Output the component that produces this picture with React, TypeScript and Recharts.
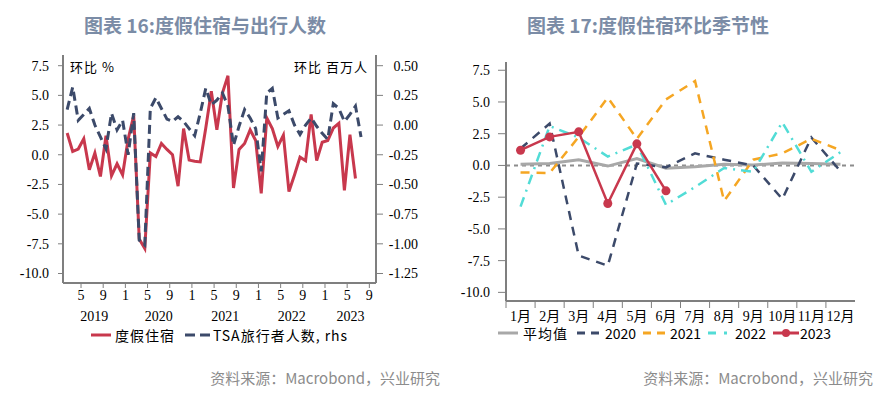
import React from "react";
import { LineChart, Line, XAxis, YAxis, ReferenceLine } from "recharts";

// 度假住宿 环比 %（左图 2019 从 2 月开始，2023 到 6 月）
const lodging2019 = [1.83, 0.28, 0.48, 1.35, -1.26, 0.14, -1.83, 1.6, -1.77, -0.76, -1.69];
const lodging2020 = [1.33, 3.3, -7.1, -7.9, 0.15, -0.15, 0.95, 0.45, 0.0, -2.65, 2.2, -0.45];
const lodging2021 = [-0.55, -0.6, 2.25, 5.35, 2.1, 5.2, 6.65, -2.8, 0.45, 0.95, 2.1, 1.2];
const lodging2022 = [-3.25, 3.1, 2.2, 0.7, 1.65, -3.1, -1.7, -0.2, -0.5, 3.4, -0.5, 1.05];
const lodging2023 = [1.2, 2.25, 2.65, -3.0, 1.7, -2.0];
const lodgingAvg = [0.1, 0.15, 0.45, -0.05, 0.55, -0.22, -0.1, 0.1, 0.03, 0.2, 0.15, 0.1];

// TSA 旅行者人数 环比 百万人（2019/2 - 2023/7）
const tsa2019 = [0.13, 0.32, 0.04, 0.09, 0.14, 0.0, -0.1, -0.2, 0.1, -0.04, 0.04];
const tsa2020 = [-0.25, 0.1, -0.97, -1.01, 0.14, 0.23, 0.14, 0.05, 0.03, 0.07, 0.03, -0.03];
const tsa2021 = [-0.09, 0.1, 0.31, 0.17, 0.21, 0.27, 0.16, -0.17, -0.01, 0.13, 0.06, -0.03];
const tsa2022 = [-0.39, 0.27, 0.31, 0.06, 0.09, 0.12, 0.0, -0.08, 0.0, 0.06, -0.01, -0.07];
const tsa2023 = [-0.12, 0.18, 0.14, 0.03, 0.09, 0.16, -0.1];

const monthLabels = ["1月", "2月", "3月", "4月", "5月", "6月", "7月", "8月", "9月", "10月", "11月", "12月"];
const leftTicksL = [-10, -7.5, -5, -2.5, 0, 2.5, 5, 7.5];
const leftTicksR = [-1.25, -1, -0.75, -0.5, -0.25, 0, 0.25, 0.5];
const monthTicks = [4, 8, 12, 16, 20, 24, 28, 32, 36, 40, 44, 48, 52, 56];
const yearTicks = [6.4, 18, 30, 42, 52.6];

const lodgingAll = [...lodging2019, ...lodging2020, ...lodging2021, ...lodging2022, ...lodging2023];
const tsaAll = [...tsa2019, ...tsa2020, ...tsa2021, ...tsa2022, ...tsa2023];
// x = 月序号(2019年1月=0) + 0.5，2019/2 起
const leftData = tsaAll.map((v, i) => ({ x: i + 1.5, lodging: lodgingAll[i], tsa: v }));

const rightData = monthLabels.map((m, i) => ({
  x: i + 0.5,
  avg: lodgingAvg[i],
  y2020: lodging2020[i],
  y2021: lodging2021[i],
  y2022: lodging2022[i],
  y2023: lodging2023[i],
}));

const RED = "#c8384d";
const NAVY = "#3c4a6a";
const ORANGE = "#f5a623";
const CYAN = "#52dcd6";
const GRAY = "#a8a8a8";
const AXIS = "#7f7f7f";
const TITLE = "#7b8ca6";

const serif = "'Liberation Serif', 'Noto Sans CJK SC', serif";
const sans = "'Noto Sans CJK SC', 'Noto Sans', sans-serif";

const tickStyle = { fontFamily: serif, fontSize: 14, fill: "#000" };

const RightTick = (props: any) => {
  const { x, y, payload } = props;
  return (
    <text x={x + 33} y={y} dy="0.35em" textAnchor="end" fontFamily={serif} fontSize={14} fill="#000">
      {payload.value.toFixed(2)}
    </text>
  );
};

const abs = (left: number, top: number, extra: React.CSSProperties = {}): React.CSSProperties => ({
  position: "absolute",
  left,
  top,
  whiteSpace: "nowrap",
  ...extra,
});

const Swatch = ({ color, dash, dot, width = 20 }: { color: string; dash?: string; dot?: boolean; width?: number }) => (
  <svg width={width} height={10} style={{ display: "block" }}>
    <line x1={0} y1={5} x2={width} y2={5} stroke={color} strokeWidth={3} strokeDasharray={dash} />
    {dot && <circle cx={width / 2} cy={5} r={4} fill={color} />}
  </svg>
);

const legendText: React.CSSProperties = { fontFamily: sans, fontSize: 14, color: "#000", lineHeight: "16px" };

const App: React.FC = () => {
  return (
    <div style={{ position: "absolute", left: 0, top: 0, width: 881, height: 395, background: "#fff" }}>
      {/* 标题 */}
      <div style={abs(5, 11, { width: 400, textAlign: "center", fontFamily: sans, fontSize: 19, fontWeight: 700, color: TITLE })}>
        图表 16:度假住宿与出行人数
      </div>
      <div style={abs(448, 11, { width: 400, textAlign: "center", fontFamily: sans, fontSize: 19, fontWeight: 700, color: TITLE })}>
        图表 17:度假住宿环比季节性
      </div>

      {/* 左图 */}
      <div style={abs(0, 0)}>
        <LineChart width={440} height={395} data={leftData} margin={{ top: 55, right: 14, bottom: 72, left: 13 }}>
          <XAxis
            xAxisId="m"
            type="number"
            dataKey="x"
            domain={[0.75, 57.2]}
            ticks={monthTicks}
            interval={0}
            tickFormatter={(v: number) => String((v % 12) + 1)}
            axisLine={{ stroke: AXIS, strokeWidth: 2 }}
            tickLine={{ stroke: AXIS }}
            tickSize={5}
            height={20}
            tick={tickStyle}
          />
          <XAxis
            xAxisId="yr"
            type="number"
            dataKey="x"
            domain={[0.75, 57.2]}
            ticks={yearTicks}
            interval={0}
            tickFormatter={(v: number) => String(2019 + Math.floor(v / 12))}
            axisLine={false}
            tickLine={false}
            height={20}
            tick={tickStyle}
          />
          <YAxis
            yAxisId="l"
            domain={[-10.8, 8.4]}
            ticks={leftTicksL}
            interval={0}
            width={50}
            tickSize={5}
            tickMargin={9}
            tickFormatter={(v: number) => v.toFixed(1)}
            axisLine={{ stroke: AXIS, strokeWidth: 2 }}
            tickLine={{ stroke: AXIS }}
            tick={tickStyle}
          />
          <YAxis
            yAxisId="r"
            orientation="right"
            domain={[-1.33, 0.59]}
            ticks={leftTicksR}
            interval={0}
            width={50}
            tickSize={7}
            tickMargin={2}
            axisLine={{ stroke: AXIS, strokeWidth: 2 }}
            tickLine={{ stroke: AXIS }}
            tick={<RightTick />}
          />
          <Line xAxisId="m" yAxisId="l" dataKey="lodging" stroke={RED} strokeWidth={3} dot={false} isAnimationActive={false} />
          <Line xAxisId="m" yAxisId="r" dataKey="tsa" stroke={NAVY} strokeWidth={3} strokeDasharray="9 5" dot={false} isAnimationActive={false} />
        </LineChart>
      </div>
      <div style={abs(70, 57, { fontFamily: sans, fontSize: 13, color: "#000", letterSpacing: 1 })}>环比 %</div>
      <div style={abs(268, 57, { width: 100, textAlign: "right", fontFamily: sans, fontSize: 13, color: "#000", letterSpacing: 1 })}>
        环比 百万人
      </div>

      {/* 左图图例 */}
      <div style={abs(91, 330)}><Swatch color={RED} /></div>
      <div style={abs(115, 327, { ...legendText, letterSpacing: 1 })}>度假住宿</div>
      <div style={abs(185, 330)}><Swatch color={NAVY} dash="10 5" width={25} /></div>
      <div style={abs(213, 327, { ...legendText, letterSpacing: 1 })}>TSA旅行者人数, rhs</div>

      {/* 右图 */}
      <div style={abs(440, 0)}>
        <LineChart width={441} height={395} data={rightData} margin={{ top: 62, right: 26, bottom: 66, left: 11 }}>
          <XAxis
            xAxisId="b"
            type="number"
            dataKey="x"
            domain={[0, 12]}
            ticks={[0, 1, 2, 3, 4, 5, 6, 7, 8, 9, 10, 11]}
            interval={0}
            tickFormatter={() => ""}
            axisLine={{ stroke: AXIS, strokeWidth: 2 }}
            tickLine={{ stroke: AXIS }}
            tickSize={7}
            height={8}
          />
          <XAxis
            xAxisId="lab"
            type="number"
            dataKey="x"
            domain={[0, 12]}
            ticks={rightData.map((d) => d.x)}
            interval={0}
            tickFormatter={(v: number) => monthLabels[Math.floor(v)]}
            axisLine={false}
            tickLine={false}
            tickSize={0}
            height={20}
            tick={tickStyle}
          />
          <YAxis
            domain={[-10.68, 8.15]}
            ticks={leftTicksL}
            interval={0}
            width={55}
            tickSize={8}
            tickMargin={8}
            tickFormatter={(v: number) => v.toFixed(1)}
            axisLine={{ stroke: AXIS, strokeWidth: 2 }}
            tickLine={{ stroke: AXIS }}
            tick={tickStyle}
          />
          <ReferenceLine xAxisId="b" y={0} stroke="#8c8c8c" strokeWidth={2} strokeDasharray="4 4" />
          <Line xAxisId="b" dataKey="avg" stroke={GRAY} strokeWidth={3} dot={false} isAnimationActive={false} />
          <Line xAxisId="b" dataKey="y2020" stroke={NAVY} strokeWidth={2.5} strokeDasharray="9 7" dot={false} isAnimationActive={false} />
          <Line xAxisId="b" dataKey="y2021" stroke={ORANGE} strokeWidth={2.5} strokeDasharray="9 7" dot={false} isAnimationActive={false} />
          <Line xAxisId="b" dataKey="y2022" stroke={CYAN} strokeWidth={2.5} strokeDasharray="10 6 2 6" dot={false} isAnimationActive={false} />
          <Line
            xAxisId="b"
            dataKey="y2023"
            stroke={RED}
            strokeWidth={2.5}
            dot={{ r: 4.5, fill: RED, stroke: RED, strokeWidth: 0 }}
            isAnimationActive={false}
          />
        </LineChart>
      </div>

      {/* 右图图例 */}
      <div style={abs(498, 328)}><Swatch color={GRAY} /></div>
      <div style={abs(523, 325, { ...legendText, letterSpacing: 1 })}>平均值</div>
      <div style={abs(577, 328)}><Swatch color={NAVY} dash="8 6" width={26} /></div>
      <div style={abs(605, 325, legendText)}>2020</div>
      <div style={abs(643, 328)}><Swatch color={ORANGE} dash="8 6" width={26} /></div>
      <div style={abs(670, 325, legendText)}>2021</div>
      <div style={abs(708, 328)}><Swatch color={CYAN} dash="8 8 3 8" width={26} /></div>
      <div style={abs(735, 325, legendText)}>2022</div>
      <div style={abs(773, 328)}><Swatch color={RED} dot width={26} /></div>
      <div style={abs(800, 325, legendText)}>2023</div>

      {/* 资料来源 */}
      <div style={abs(140, 367, { width: 300, textAlign: "right", fontFamily: sans, fontSize: 15, color: "#8c8c8c" })}>
        资料来源：Macrobond，兴业研究
      </div>
      <div style={abs(573, 367, { width: 300, textAlign: "right", fontFamily: sans, fontSize: 15, color: "#8c8c8c" })}>
        资料来源：Macrobond，兴业研究
      </div>
    </div>
  );
};

export default App;
